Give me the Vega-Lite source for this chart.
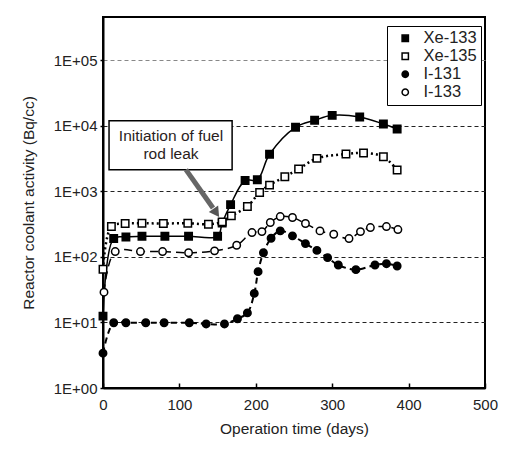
{
  "$schema": "https://vega.github.io/schema/vega-lite/v6.json",
  "width": 382,
  "height": 371,
  "autosize": {"type": "none"},
  "padding": {"left": 103, "top": 17, "right": 30, "bottom": 64},
  "background": "white",
  "config": {
    "font": "Liberation Sans",
    "view": {"stroke": "black", "strokeWidth": 2},
    "axis": {
      "labelFont": "Liberation Sans",
      "titleFont": "Liberation Sans",
      "labelFontSize": 15,
      "titleFontSize": 15.5,
      "titleFontWeight": "normal",
      "labelColor": "#222",
      "titleColor": "#222",
      "domainColor": "black",
      "domainWidth": 2,
      "tickColor": "black",
      "tickWidth": 1.5
    },
    "legend": {
      "labelFont": "Liberation Sans",
      "labelFontSize": 16.5,
      "labelColor": "#222"
    }
  },
  "datasets": {
    "series": [
      {"series": "Xe-133", "day": 0, "value": 12.5},
      {"series": "Xe-133", "day": 14, "value": 191},
      {"series": "Xe-133", "day": 30, "value": 202},
      {"series": "Xe-133", "day": 51, "value": 207},
      {"series": "Xe-133", "day": 81, "value": 207},
      {"series": "Xe-133", "day": 112, "value": 207},
      {"series": "Xe-133", "day": 150, "value": 207},
      {"series": "Xe-133", "day": 156, "value": 330},
      {"series": "Xe-133", "day": 167, "value": 630},
      {"series": "Xe-133", "day": 186, "value": 1470},
      {"series": "Xe-133", "day": 202, "value": 1510},
      {"series": "Xe-133", "day": 218, "value": 3700},
      {"series": "Xe-133", "day": 252, "value": 9540},
      {"series": "Xe-133", "day": 277, "value": 12200},
      {"series": "Xe-133", "day": 300, "value": 14500},
      {"series": "Xe-133", "day": 336, "value": 13700},
      {"series": "Xe-133", "day": 367, "value": 10700},
      {"series": "Xe-133", "day": 385, "value": 9000},
      {"series": "Xe-135", "day": 0, "value": 65},
      {"series": "Xe-135", "day": 11, "value": 291},
      {"series": "Xe-135", "day": 29, "value": 324},
      {"series": "Xe-135", "day": 51, "value": 327},
      {"series": "Xe-135", "day": 79, "value": 324},
      {"series": "Xe-135", "day": 111, "value": 327},
      {"series": "Xe-135", "day": 138, "value": 316},
      {"series": "Xe-135", "day": 156, "value": 343},
      {"series": "Xe-135", "day": 168, "value": 424},
      {"series": "Xe-135", "day": 189, "value": 590},
      {"series": "Xe-135", "day": 205, "value": 966},
      {"series": "Xe-135", "day": 218, "value": 1250},
      {"series": "Xe-135", "day": 238, "value": 1676},
      {"series": "Xe-135", "day": 256, "value": 2197},
      {"series": "Xe-135", "day": 280, "value": 3200},
      {"series": "Xe-135", "day": 318, "value": 3730},
      {"series": "Xe-135", "day": 341, "value": 3860},
      {"series": "Xe-135", "day": 367, "value": 3390},
      {"series": "Xe-135", "day": 385, "value": 2120},
      {"series": "I-131", "day": 0, "value": 3.4},
      {"series": "I-131", "day": 14, "value": 9.9},
      {"series": "I-131", "day": 30, "value": 9.9},
      {"series": "I-131", "day": 56, "value": 9.9},
      {"series": "I-131", "day": 80, "value": 9.9},
      {"series": "I-131", "day": 113, "value": 9.9},
      {"series": "I-131", "day": 135, "value": 9.5},
      {"series": "I-131", "day": 159, "value": 9.5},
      {"series": "I-131", "day": 176, "value": 11.4},
      {"series": "I-131", "day": 189, "value": 14},
      {"series": "I-131", "day": 198, "value": 27.8},
      {"series": "I-131", "day": 203, "value": 59.7},
      {"series": "I-131", "day": 210, "value": 116},
      {"series": "I-131", "day": 220, "value": 193},
      {"series": "I-131", "day": 232, "value": 250},
      {"series": "I-131", "day": 248, "value": 210},
      {"series": "I-131", "day": 265, "value": 160},
      {"series": "I-131", "day": 280, "value": 126},
      {"series": "I-131", "day": 294, "value": 97.7},
      {"series": "I-131", "day": 308, "value": 75.4},
      {"series": "I-131", "day": 331, "value": 64},
      {"series": "I-131", "day": 356, "value": 75.4},
      {"series": "I-131", "day": 371, "value": 79},
      {"series": "I-131", "day": 385, "value": 72.8},
      {"series": "I-133", "day": 1.3, "value": 29},
      {"series": "I-133", "day": 16, "value": 121},
      {"series": "I-133", "day": 49, "value": 121},
      {"series": "I-133", "day": 78, "value": 121},
      {"series": "I-133", "day": 112, "value": 116},
      {"series": "I-133", "day": 146, "value": 124},
      {"series": "I-133", "day": 175, "value": 151},
      {"series": "I-133", "day": 195, "value": 236},
      {"series": "I-133", "day": 208, "value": 244},
      {"series": "I-133", "day": 219, "value": 336},
      {"series": "I-133", "day": 232, "value": 414},
      {"series": "I-133", "day": 248, "value": 400},
      {"series": "I-133", "day": 265, "value": 324},
      {"series": "I-133", "day": 284, "value": 250},
      {"series": "I-133", "day": 302, "value": 222},
      {"series": "I-133", "day": 322, "value": 191},
      {"series": "I-133", "day": 337, "value": 244},
      {"series": "I-133", "day": 350, "value": 281},
      {"series": "I-133", "day": 371, "value": 291},
      {"series": "I-133", "day": 386, "value": 262}
    ],
    "box": [{"x1": 7.9, "x2": 169, "y1": 2150, "y2": 12000}],
    "note": [
      {"day": 89, "value": 7110, "text": "Initiation of fuel"},
      {"day": 89, "value": 3730, "text": "rod leak"}
    ],
    "arrow": [{"x1": 108.5, "y1": 2150, "x2": 144, "y2": 560}],
    "head": [{"day": 148.3, "value": 471}]
  },
  "layer": [
    {
      "data": {"name": "series"},
      "transform": [{"filter": "datum.series == 'Xe-133'"}],
      "mark": {"type": "line", "color": "black", "strokeWidth": 1.5, "interpolate": "catmull-rom"},
      "encoding": {
        "x": {
          "field": "day", "type": "quantitative",
          "scale": {"domain": [0, 500], "nice": false},
          "axis": {
            "title": "Operation time (days)",
            "values": [0, 50, 100, 150, 200, 250, 300, 350, 400, 450, 500],
            "labelExpr": "datum.value % 100 == 0 ? datum.label : ''",
            "grid": false,
            "tickSize": -5,
            "labelPadding": 14,
            "titlePadding": 9,
            "labelFlush": false
          }
        },
        "y": {
          "field": "value", "type": "quantitative",
          "scale": {"type": "log", "domain": [1, 460000], "nice": false},
          "axis": {
            "title": "Reactor coolant activity (Bq/cc)",
            "values": [1, 10, 100, 1000, 10000, 100000],
            "labelExpr": "'1E+0' + round(log(datum.value) / LN10)",
            "grid": true,
            "gridColor": {"condition": [{"test": "datum.value == 1", "value": "transparent"}, {"test": "datum.value == 100000", "value": "#888"}], "value": "#222"},
            "gridDash": [4, 3],
            "gridWidth": 1,
            "tickSize": 3,
            "labelPadding": 3,
            "titlePadding": 17,
            "labelFlush": false
          }
        }
      }
    },
    {
      "data": {"name": "series"},
      "transform": [{"filter": "datum.series == 'Xe-135'"}],
      "mark": {"type": "line", "color": "black", "strokeWidth": 2.5, "strokeDash": [2, 3], "interpolate": "catmull-rom"},
      "encoding": {
        "x": {"field": "day", "type": "quantitative"},
        "y": {"field": "value", "type": "quantitative"}
      }
    },
    {
      "data": {"name": "series"},
      "transform": [{"filter": "datum.series == 'I-131'"}],
      "mark": {"type": "line", "color": "black", "strokeWidth": 2, "strokeDash": [6, 4], "interpolate": "catmull-rom"},
      "encoding": {
        "x": {"field": "day", "type": "quantitative"},
        "y": {"field": "value", "type": "quantitative"}
      }
    },
    {
      "data": {"name": "series"},
      "transform": [{"filter": "datum.series == 'I-133'"}],
      "mark": {"type": "line", "color": "black", "strokeWidth": 1.5, "strokeDash": [8, 5], "interpolate": "catmull-rom"},
      "encoding": {
        "x": {"field": "day", "type": "quantitative"},
        "y": {"field": "value", "type": "quantitative"}
      }
    },
    {
      "data": {"name": "series"},
      "mark": {"type": "point", "filled": true, "stroke": "black", "strokeWidth": 1.5, "size": 55, "opacity": 1},
      "encoding": {
        "x": {"field": "day", "type": "quantitative"},
        "y": {"field": "value", "type": "quantitative"},
        "shape": {
          "field": "series", "type": "nominal",
          "scale": {"domain": ["Xe-133", "Xe-135", "I-131", "I-133"], "range": ["square", "square", "circle", "circle"]},
          "legend": {
            "title": null,
            "orient": "none",
            "legendX": 284,
            "legendY": 9,
            "strokeColor": "black",
            "fillColor": "white",
            "padding": 4,
            "symbolOffset": 6,
            "symbolSize": 40,
            "labelOffset": 10,
            "rowPadding": 1,
            "encode": {"symbols": {"update": {"stroke": {"value": "black"}, "strokeWidth": {"value": 1.5}, "opacity": {"value": 1}}}}
          }
        },
        "fill": {
          "field": "series", "type": "nominal",
          "scale": {"domain": ["Xe-133", "Xe-135", "I-131", "I-133"], "range": ["black", "white", "black", "white"]},
          "legend": {
            "title": null,
            "orient": "none",
            "legendX": 284,
            "legendY": 9,
            "strokeColor": "black",
            "fillColor": "white",
            "padding": 4,
            "symbolOffset": 6,
            "symbolSize": 40,
            "labelOffset": 10,
            "rowPadding": 1,
            "encode": {"symbols": {"update": {"stroke": {"value": "black"}, "strokeWidth": {"value": 1.5}, "opacity": {"value": 1}}}}
          }
        }
      }
    },
    {
      "data": {"name": "box"},
      "mark": {"type": "rect", "fill": "white", "stroke": "black", "strokeWidth": 1.5},
      "encoding": {
        "x": {"field": "x1", "type": "quantitative"},
        "x2": {"field": "x2"},
        "y": {"field": "y1", "type": "quantitative"},
        "y2": {"field": "y2"}
      }
    },
    {
      "data": {"name": "note"},
      "mark": {"type": "text", "fontSize": 15.5, "color": "#2a1d1d", "align": "center", "baseline": "middle"},
      "encoding": {
        "x": {"field": "day", "type": "quantitative"},
        "y": {"field": "value", "type": "quantitative"},
        "text": {"field": "text"}
      }
    },
    {
      "data": {"name": "arrow"},
      "mark": {"type": "rule", "color": "#666", "strokeWidth": 5},
      "encoding": {
        "x": {"field": "x1", "type": "quantitative"},
        "x2": {"field": "x2"},
        "y": {"field": "y1", "type": "quantitative"},
        "y2": {"field": "y2"}
      }
    },
    {
      "data": {"name": "head"},
      "mark": {"type": "point", "shape": "triangle-down", "filled": true, "color": "#555", "size": 130, "angle": 325, "opacity": 1},
      "encoding": {
        "x": {"field": "day", "type": "quantitative"},
        "y": {"field": "value", "type": "quantitative"}
      }
    }
  ]
}
